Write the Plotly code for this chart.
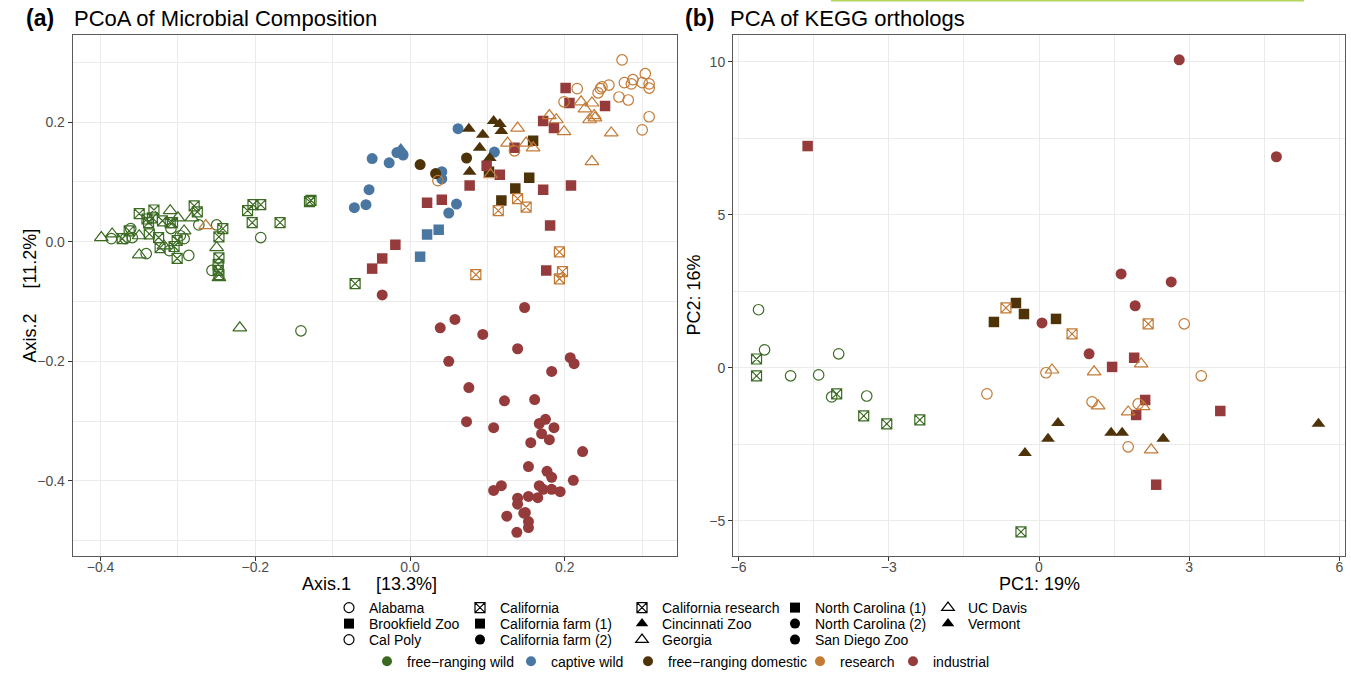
import plotly.graph_objects as go

W, H = 1351, 678
FONT = "Liberation Sans, Arial, Helvetica, sans-serif"

# ---------------- Panel (a): PCoA of Microbial Composition ----------------
a_alabama_x = [-0.193, -0.250, -0.273, -0.309, -0.292, -0.311, -0.286, -0.341, -0.361, -0.386, -0.368, -0.359, -0.297, -0.256, -0.141]
a_alabama_y = [0.007, 0.028, 0.028, 0.022, 0.005, -0.015, -0.023, -0.020, 0.022, 0.005, 0.005, 0.007, 0.010, -0.048, -0.149]

a_california_x = [-0.130, -0.128, -0.193, -0.203, -0.210, -0.204, -0.168, -0.242, -0.247, -0.279, -0.275, -0.307, -0.331, -0.350,
                  -0.338, -0.333, -0.320, -0.340, -0.337, -0.325, -0.301, -0.323, -0.301, -0.372, -0.363, -0.247, -0.248, -0.248,
                  -0.247, -0.071, -0.310, -0.305]
a_california_y = [0.067, 0.069, 0.062, 0.062, 0.052, 0.032, 0.032, 0.022, 0.008, 0.060, 0.050, 0.032, 0.053, 0.047,
                  0.032, 0.040, 0.035, 0.038, 0.013, 0.007, 0.002, -0.010, -0.028, 0.005, 0.018, -0.027, -0.038, -0.048,
                  -0.055, -0.070, 0.032, -0.008]

a_georgia_x = [-0.399, -0.385, -0.350, -0.318, -0.310, -0.300, -0.292, -0.282, -0.250, -0.247, -0.220, -0.350]
a_georgia_y = [0.007, 0.013, -0.022, -0.007, 0.052, 0.040, 0.018, 0.040, -0.010, -0.060, -0.144, 0.010]

a_sandiego_x = [-0.049, -0.027, -0.017, -0.009, 0.062, 0.109, 0.041, 0.041, -0.053, -0.072, -0.057, 0.060, 0.050]
a_sandiego_y = [0.139, 0.132, 0.149, 0.145, 0.189, 0.150, 0.117, 0.105, 0.087, 0.057, 0.062, 0.063, 0.048]

a_brookfield_x = [0.022, 0.037, 0.013]
a_brookfield_y = [0.012, 0.020, -0.025]

a_cincinnati_x = [-0.012]
a_cincinnati_y = [0.155]

a_cafarm2_x = [0.013, 0.033, 0.073]
a_cafarm2_y = [0.129, 0.114, 0.140]

a_vermont_x = [0.076, 0.094, 0.090, 0.108, 0.116, 0.118, 0.103, 0.077]
a_vermont_y = [0.189, 0.179, 0.157, 0.202, 0.197, 0.185, 0.140, 0.117]

a_cafarm1_x = [0.159, 0.154, 0.136, 0.118, 0.102]
a_cafarm1_y = [0.169, 0.107, 0.089, 0.069, 0.117]

a_nc1_x = [0.201, 0.206, 0.252, 0.172, 0.186, 0.135, 0.099, 0.116, 0.077, 0.172, 0.208, 0.022, 0.041, 0.181, -0.019, -0.036, -0.049, 0.176]
a_nc1_y = [0.257, 0.232, 0.227, 0.202, 0.190, 0.157, 0.127, 0.112, 0.094, 0.087, 0.094, 0.065, 0.070, 0.027, -0.005, -0.028, -0.045, -0.048]

a_nc2_x = [0.148, 0.058, 0.039, 0.094, 0.139, 0.050, 0.207, 0.212, 0.183, 0.076, 0.122, 0.161, 0.073, 0.108,
           0.175, 0.167, 0.186, 0.170, 0.180, 0.156, 0.223, 0.153, 0.177, 0.183, 0.211, 0.118, 0.108, 0.167,
           0.172, 0.183, 0.194, 0.165, 0.153, 0.139, 0.139, 0.149, 0.147, 0.125, 0.153, 0.153, 0.138, -0.036]
a_nc2_y = [-0.110, -0.130, -0.144, -0.155, -0.179, -0.200, -0.194, -0.204, -0.217, -0.244, -0.266, -0.264, -0.301, -0.311,
           -0.297, -0.304, -0.311, -0.321, -0.331, -0.336, -0.351, -0.376, -0.384, -0.394, -0.399, -0.408, -0.416, -0.408,
           -0.414, -0.414, -0.418, -0.428, -0.426, -0.429, -0.439, -0.453, -0.454, -0.459, -0.468, -0.478, -0.486, -0.089]

a_calpoly_x = [0.274, 0.216, 0.199, 0.246, 0.248, 0.257, 0.243, 0.277, 0.286, 0.288, 0.304, 0.300, 0.309, 0.309,
               0.270, 0.282, 0.309, 0.300, 0.135, 0.036]
a_calpoly_y = [0.304, 0.256, 0.234, 0.256, 0.259, 0.262, 0.249, 0.266, 0.264, 0.271, 0.281, 0.266, 0.264, 0.257,
               0.242, 0.237, 0.209, 0.187, 0.152, 0.102]

a_ucdavis_x = [0.221, 0.235, 0.226, 0.238, 0.232, 0.239, 0.260, 0.235, 0.180, 0.189, 0.199, 0.139, 0.126, 0.150, 0.159, 0.104, -0.264]
a_ucdavis_y = [0.234, 0.232, 0.222, 0.211, 0.204, 0.207, 0.182, 0.134, 0.211, 0.204, 0.184, 0.190, 0.165, 0.165, 0.157, 0.112, 0.027]

a_cares_x = [0.139, 0.150, 0.114, 0.193, 0.197, 0.193, 0.085]
a_cares_y = [0.072, 0.058, 0.052, -0.017, -0.050, -0.062, -0.055]

# ---------------- Panel (b): PCA of KEGG orthologs ----------------
b_alabama_x = [-5.60, -5.48, -4.96, -4.40, -4.00, -4.14, -3.44]
b_alabama_y = [1.90, 0.59, -0.26, -0.23, 0.46, -0.95, -0.92]

b_california_x = [-5.64, -5.64, -4.04, -3.50, -3.04, -2.38, -0.36]
b_california_y = [0.29, -0.26, -0.85, -1.57, -1.83, -1.70, -5.36]

b_cafarm1_x = [-0.90, -0.46, -0.30, 0.34]
b_cafarm1_y = [1.50, 2.12, 1.76, 1.60]

b_vermont_x = [-0.28, 0.38, 0.18, 1.44, 1.66, 2.48, 5.58]
b_vermont_y = [-2.78, -1.80, -2.32, -2.12, -2.12, -2.32, -1.83]

b_nc2_x = [1.64, 2.64, 1.92, 0.06, 1.00, 2.80, 4.74]
b_nc2_y = [3.07, 2.81, 2.03, 1.47, 0.46, 10.07, 6.90]

b_nc1_x = [-4.62, 1.46, 1.90, 2.12, 1.94, 3.62, 2.34]
b_nc1_y = [7.25, 0.03, 0.33, -1.05, -1.54, -1.41, -3.82]

b_calpoly_x = [-1.04, 0.14, 1.06, 1.78, 2.90, 3.24, 1.98]
b_calpoly_y = [-0.85, -0.16, -1.11, -2.58, 1.44, -0.26, -1.18]

b_ucdavis_x = [0.26, 1.10, 2.04, 1.18, 1.78, 2.08, 2.24]
b_ucdavis_y = [-0.07, -0.13, 0.13, -1.24, -1.44, -1.27, -2.68]

b_cares_x = [-0.66, 0.66, 2.18]
b_cares_y = [1.96, 1.11, 1.44]

# ---------------- legend labels ----------------
site_columns = [
    ["Alabama", "Brookfield Zoo", "Cal Poly"],
    ["California", "California farm (1)", "California farm (2)"],
    ["California research", "Cincinnati Zoo", "Georgia"],
    ["North Carolina (1)", "North Carolina (2)", "San Diego Zoo"],
    ["UC Davis", "Vermont"],
]
category_labels = ["free−ranging wild", "captive wild", "free−ranging domestic", "research", "industrial"]

# ---------------- styles ----------------
COLORS = {
    "free−ranging wild": "#3b6b22",
    "captive wild": "#4a77a1",
    "free−ranging domestic": "#4e3309",
    "research": "#c27a35",
    "industrial": "#963b3b",
}
SYMBOL = {
    "Alabama": "circle-open", "Brookfield Zoo": "square", "Cal Poly": "circle-open",
    "California": "square-x-open", "California farm (1)": "square", "California farm (2)": "circle",
    "California research": "square-x-open", "Cincinnati Zoo": "triangle-up", "Georgia": "triangle-up-open",
    "North Carolina (1)": "square", "North Carolina (2)": "circle", "San Diego Zoo": "circle",
    "UC Davis": "triangle-up-open", "Vermont": "triangle-up",
}
SIZE = {"circle": 11, "square": 10.5, "triangle-up": 12, "circle-open": 10.5,
        "triangle-up-open": 12, "square-x-open": 10}

fig = go.Figure()


def add_points(x, y, site, cat, xa, ya):
    sym = SYMBOL[site]
    fig.add_trace(go.Scatter(
        x=x, y=y, mode="markers", xaxis=xa, yaxis=ya, showlegend=False, name=site,
        marker=dict(symbol=sym, color=COLORS[cat], size=SIZE[sym],
                    line=dict(width=1.2 if "open" in sym else 0, color=COLORS[cat])),
    ))


# panel (a)
add_points(a_alabama_x, a_alabama_y, "Alabama", "free−ranging wild", "x", "y")
add_points(a_california_x, a_california_y, "California", "free−ranging wild", "x", "y")
add_points(a_georgia_x, a_georgia_y, "Georgia", "free−ranging wild", "x", "y")
add_points(a_sandiego_x, a_sandiego_y, "San Diego Zoo", "captive wild", "x", "y")
add_points(a_brookfield_x, a_brookfield_y, "Brookfield Zoo", "captive wild", "x", "y")
add_points(a_cincinnati_x, a_cincinnati_y, "Cincinnati Zoo", "captive wild", "x", "y")
add_points(a_cafarm2_x, a_cafarm2_y, "California farm (2)", "free−ranging domestic", "x", "y")
add_points(a_vermont_x, a_vermont_y, "Vermont", "free−ranging domestic", "x", "y")
add_points(a_cafarm1_x, a_cafarm1_y, "California farm (1)", "free−ranging domestic", "x", "y")
add_points(a_nc1_x, a_nc1_y, "North Carolina (1)", "industrial", "x", "y")
add_points(a_nc2_x, a_nc2_y, "North Carolina (2)", "industrial", "x", "y")
add_points(a_calpoly_x, a_calpoly_y, "Cal Poly", "research", "x", "y")
add_points(a_ucdavis_x, a_ucdavis_y, "UC Davis", "research", "x", "y")
add_points(a_cares_x, a_cares_y, "California research", "research", "x", "y")

# panel (b)
add_points(b_alabama_x, b_alabama_y, "Alabama", "free−ranging wild", "x2", "y2")
add_points(b_california_x, b_california_y, "California", "free−ranging wild", "x2", "y2")
add_points(b_cafarm1_x, b_cafarm1_y, "California farm (1)", "free−ranging domestic", "x2", "y2")
add_points(b_vermont_x, b_vermont_y, "Vermont", "free−ranging domestic", "x2", "y2")
add_points(b_nc2_x, b_nc2_y, "North Carolina (2)", "industrial", "x2", "y2")
add_points(b_nc1_x, b_nc1_y, "North Carolina (1)", "industrial", "x2", "y2")
add_points(b_calpoly_x, b_calpoly_y, "Cal Poly", "research", "x2", "y2")
add_points(b_ucdavis_x, b_ucdavis_y, "UC Davis", "research", "x2", "y2")
add_points(b_cares_x, b_cares_y, "California research", "research", "x2", "y2")

# ---------------- legends (one small legend per entry, placed like ggplot's grid) ----------------
col_sym_px = [351, 482, 644, 797, 950]
row_px = [608, 624, 640]
legend_layouts = {}
n = 1
for ci, col in enumerate(site_columns):
    for ri, site in enumerate(col):
        lname = "legend" if n == 1 else f"legend{n}"
        sym = SYMBOL[site]
        fig.add_trace(go.Scatter(
            x=[None], y=[None], mode="markers", name=site, legend=lname, showlegend=True,
            marker=dict(symbol=sym, color="black", size=10 if "triangle" not in sym else 11,
                        line=dict(width=1.2 if "open" in sym else 0, color="black")),
        ))
        legend_layouts[lname] = dict(
            x=(col_sym_px[ci] - 22) / W, y=1 - row_px[ri] / H, xanchor="left", yanchor="middle",
            bgcolor="rgba(0,0,0,0)", borderwidth=0, font=dict(family=FONT, size=14, color="black"),
        )
        n += 1

cat_sym_px = [389, 533, 650, 822, 915]
for ci, cat in enumerate(category_labels):
    lname = f"legend{n}"
    fig.add_trace(go.Scatter(
        x=[None], y=[None], mode="markers", name=cat, legend=lname, showlegend=True,
        marker=dict(symbol="circle", color=COLORS[cat], size=10),
    ))
    # anchored on the bottom edge so the box never leaves the figure (no margin push)
    legend_layouts[lname] = dict(
        x=(cat_sym_px[ci] - 22) / W, y=0.0005, xanchor="left", yanchor="bottom",
        bgcolor="rgba(0,0,0,0)", borderwidth=0, font=dict(family=FONT, size=14, color="black"),
    )
    n += 1

# ---------------- axes ----------------
GRID = "#ebebeb"


def axis(domain, rng, dtick, minor_dtick, fmt, anchor, standoff=0):
    return dict(
        domain=domain, range=rng, dtick=dtick, tick0=0, tickformat=fmt, anchor=anchor,
        showgrid=True, gridcolor=GRID, gridwidth=1.1, zeroline=False,
        minor=dict(dtick=minor_dtick, tick0=0, showgrid=True, gridcolor=GRID, gridwidth=0.6, ticks=""),
        ticks="outside", ticklen=4, tickcolor="#333333", tickwidth=1,
        ticklabelstandoff=standoff,
        tickfont=dict(family=FONT, size=14, color="#4d4d4d"),
        showline=True, mirror=True, linecolor="#5a5a5a", linewidth=1,
        automargin=False, fixedrange=True,
    )


ydom = [1 - 556 / H, 1 - 35 / H]
fig.update_layout(
    width=W, height=H,
    margin=dict(l=0, r=0, t=0, b=0),
    paper_bgcolor="white", plot_bgcolor="white",
    font=dict(family=FONT, color="black"),
    xaxis=axis([72.7 / W, 676.7 / W], [-0.436, 0.3446], 0.2, 0.1, ".1f", "y", -6),
    yaxis=axis(ydom, [-0.5256, 0.3457], 0.2, 0.1, ".1f", "x"),
    xaxis2=axis([733 / W, 1345 / W], [-6.11, 6.11], 3, 1.5, "d", "y2", -6),
    yaxis2=axis(ydom, [-6.15, 10.88], 5, 2.5, "d", "x2"),
    **legend_layouts,
)


def ann(text, px, py, size, anchor="left", angle=0, bold=False):
    fig.add_annotation(
        text=f"<b>{text}</b>" if bold else text, xref="paper", yref="paper",
        x=px / W, y=1 - py / H, xanchor=anchor, yanchor="middle", showarrow=False,
        textangle=angle, font=dict(family=FONT, size=size, color="black"),
    )


ann("(a)", 24, 18, 23, bold=True)
ann("PCoA of Microbial Composition", 72, 18, 22)
ann("(b)", 683, 18, 23, bold=True)
ann("PCA of KEGG orthologs", 728, 18, 22)
ann("Axis.1" + "\u00a0" * 5 + "[13.3%]", 369.5, 584, 18, anchor="center")
ann("Axis.2" + "\u00a0" * 5 + "[11.2%]", 29, 295.5, 18, anchor="center", angle=-90)
ann("PC1: 19%", 1039, 584, 18, anchor="center")
ann("PC2: 16%", 693, 295.5, 18, anchor="center", angle=-90)

# thin green stroke at the top edge of the reference image
fig.add_shape(type="line", xref="paper", yref="paper", x0=831 / W, x1=1304 / W, y0=1 - 0.8 / H, y1=1 - 0.8 / H,
              line=dict(color="#b5d65c", width=1.6))

fig.write_html(
    "out.html",
    config={"displayModeBar": False},
    post_script="document.body.style.margin='0';document.body.style.padding='0';"
                "document.documentElement.style.overflow='hidden';",
)
